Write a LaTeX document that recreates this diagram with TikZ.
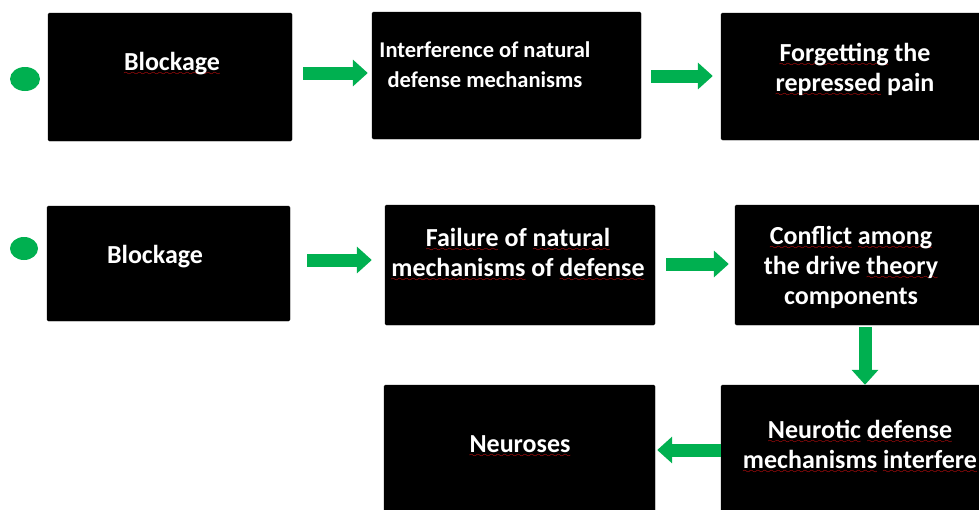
\documentclass[tikz,border=0pt]{standalone}
\usepackage{fontspec}
\setmainfont{Carlito}
\usetikzlibrary{arrows.meta,calc,shapes.geometric}
\definecolor{ggreen}{RGB}{0,176,80}
\definecolor{sqred}{RGB}{255,20,20}
\font\mywavefont=lasy6 at 8pt
\newcommand\sqw[1]{\leavevmode\setbox0\hbox{#1}\rlap{\raisebox{-5pt}{\textcolor{sqred}{\hbox to \wd0{\xleaders\hbox{\mywavefont\char58}\hfill}}}}\box0\relax}
\begin{document}
\begin{tikzpicture}[x=1pt,y=-1pt,
  box/.style={draw=black, fill=black, rounded corners=1.5pt, inner sep=0pt},
  txt/.style={text=white, font=\bfseries\fontsize{26}{30}\selectfont, align=center, inner sep=0pt},
  gdot/.style={ellipse, fill=ggreen, inner sep=0pt, minimum width=30pt, minimum height=24pt},
  garrow/.style={draw=ggreen, line width=13pt, -{Triangle[width=26pt,length=15pt]}}]
\useasboundingbox (0,0) rectangle (979,509);
\clip (0,0) rectangle (979,509);
% dots
\node[gdot] (d1) at (25,79) {};
\node[gdot, minimum width=28pt, minimum height=23pt] (d2) at (24,248.5) {};
% boxes
\node[box, minimum width=244pt, minimum height=128pt] (b1) at (170,77) {};
\node[box, minimum width=269pt, minimum height=127pt] (b2) at (506.5,75.5) {};
\node[box, minimum width=280pt, minimum height=127pt] (b3) at (861,76.5) {};
\node[box, minimum width=243pt, minimum height=115pt] (b4) at (168.5,263.5) {};
\node[box, minimum width=270pt, minimum height=120pt] (b5) at (520,265) {};
\node[box, minimum width=260pt, minimum height=120pt] (b6) at (865,265) {};
\node[box, minimum width=271pt, minimum height=130pt] (b7) at (519.5,450) {};
\node[box, minimum width=288pt, minimum height=130pt] (b8) at (865,450) {};
% texts
\node[txt] (t1) at (172,64) {\sqw{Blockage}};
\node[txt, font=\bfseries\fontsize{22.5}{30}\selectfont] (t2) at (485,65) {Interference of natural\\defense mechanisms};
\node[txt] (t3) at (855,70) {\sqw{Forgetting} the\\\sqw{repressed} pain};
\node[txt] (t4) at (155,257) {Blockage};
\node[txt] (t5) at (518,255) {\sqw{Failure} of \sqw{natural}\\\sqw{mechanisms} of \sqw{defense}};
\node[txt] (t6) at (851,267) {\sqw{Conflict} \sqw{among}\\the drive \sqw{theory}\\components};
\node[txt] (t7) at (520,447) {\sqw{Neuroses}};
\node[txt] (t8) at (860,447) {\sqw{Neurotic} \sqw{defense}\\\sqw{mechanisms} \sqw{interfere}};
% arrows
\draw[garrow] ($(b1.east)+(11,-4)$) -- ($(b1.east -| b2.west)+(-4,-4)$);
\draw[garrow] ($(b2.east)+(10,0.5)$) -- ($(b2.east -| b3.west)+(-8,0.5)$);
\draw[garrow] ($(b4.east)+(17,-3.5)$) -- ($(b4.east -| b5.west)+(-13,-3.5)$);
\draw[garrow] ($(b5.east)+(11,-1)$) -- ($(b5.east -| b6.west)+(-6,-1)$);
\draw[garrow, shorten <=2pt] (b6.south) -- (b8.north);
\draw[garrow, shorten >=2pt] (b8.west) -- (b7.east);
\end{tikzpicture}
\end{document}
